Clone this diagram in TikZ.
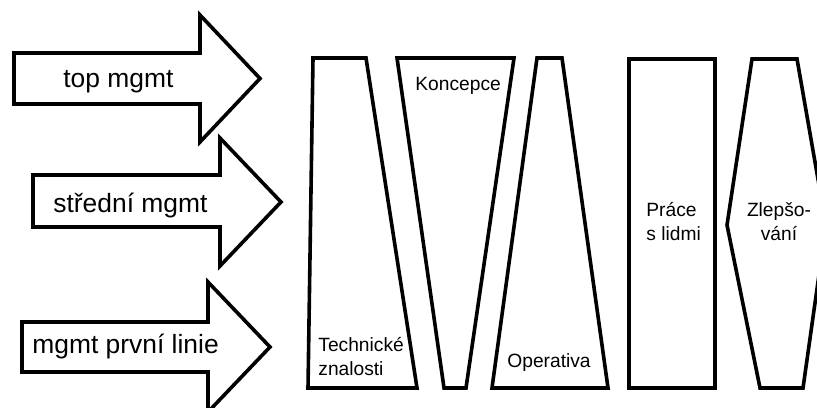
\documentclass[tikz,border=0pt]{standalone}
\usepackage{fontspec}
\setmainfont{Liberation Sans}
\begin{document}
\begin{tikzpicture}[x=0.5pt,y=-0.5pt,
  outline/.style={draw=black,line width=1.8pt,fill=white},
  biglabel/.style={inner sep=0pt,anchor=base west,font=\fontsize{13.2pt}{15pt}\selectfont},
  smalllabel/.style={inner sep=0pt,font=\fontsize{9.6pt}{11.8pt}\selectfont}]
\useasboundingbox (0,0) rectangle (817,407);
\clip (0,0) rectangle (817,407);

% level arrows
\draw[outline] (14,53) -- (200,53) -- (200,15) -- (260,78.5) -- (200,142)
  -- (200,104) -- (14,104) -- cycle;
\draw[outline] (33,175) -- (220,175) -- (220,138) -- (281,202) -- (220,266)
  -- (220,227) -- (33,227) -- cycle;
\draw[outline] (22,322) -- (208,322) -- (208,282) -- (270,347) -- (208,412)
  -- (208,372) -- (22,372) -- cycle;

\node[biglabel] (top) at (63,87) {top mgmt};
\node[biglabel] (mid) at (53,212) {střední mgmt};
\node[biglabel] (first) at (32,353) {mgmt první linie};

% skill columns
\draw[outline] (313,58) -- (366,58) -- (417,388) -- (308,388) -- cycle;
\draw[outline] (397,58) -- (514,58) -- (466,388) -- (444,388) -- cycle;
\draw[outline] (537,58) -- (562,58) -- (608,388) -- (492,388) -- cycle;
\draw[outline] (629,59) rectangle (715,388);
\draw[outline] (752,59) -- (797,59) -- (826,225) -- (803,388) -- (760,388)
  -- (727,225) -- cycle;

% multi-line labels are placed by the baseline of their last line
\node[smalllabel,anchor=base west,align=left,font=\fontsize{9.6pt}{11.6pt}\selectfont] (tech) at (318,375) {Technické\\znalosti};
\node[smalllabel,anchor=base west] (konc) at (415,90) {Koncepce};
\node[smalllabel,anchor=base west] (oper) at (507,367) {Operativa};
\node[smalllabel,anchor=base west,align=left,font=\fontsize{9.6pt}{12pt}\selectfont] (prace) at (646,240) {Práce\\s lidmi};
\node[smalllabel,anchor=base,align=center,font=\fontsize{9.6pt}{12pt}\selectfont] (zlep) at (779,240) {Zlepšo-\\vání};
\end{tikzpicture}
\end{document}
